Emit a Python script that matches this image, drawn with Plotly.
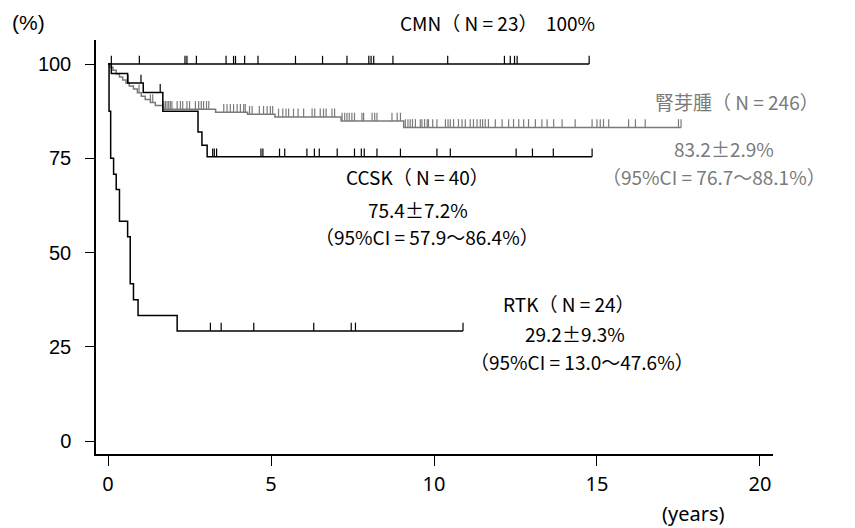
import plotly.graph_objects as go

# ---------------- data (years, % survival) ----------------
cmn_end = 14.76
cmn_censor = [0.10, 0.96, 2.36, 2.42, 2.71, 3.62, 3.85, 3.91, 4.19, 4.60, 5.75, 6.58,
              7.33, 8.00, 8.07, 8.15, 8.74, 10.42, 12.16, 12.34, 12.47, 12.55, 14.76]

wilms_t = [0.05, 0.15, 0.25, 0.35, 0.45, 0.55, 0.65, 0.78, 0.90, 1.02, 1.14, 1.30,
           1.45, 1.70, 3.30, 4.28, 5.12, 7.15, 9.07]
wilms_s = [99.2, 98.4, 97.4, 96.6, 95.8, 95.0, 94.2, 93.4, 92.4, 91.5, 90.6, 89.8,
           89.0, 88.0, 87.2, 86.7, 86.0, 84.9, 83.2]
wilms_end = 17.58
wilms_censor = [0.62, 0.95, 1.30, 1.37, 1.71, 1.76, 1.81, 1.86, 1.91, 1.96, 2.12, 2.22,
                2.29, 2.42, 2.50, 2.68, 2.78, 2.86, 2.93, 3.02, 3.09,
                3.55, 3.65, 3.75, 3.85, 3.96, 4.06, 4.16, 4.21,
                4.34, 4.42, 4.64, 4.77, 4.88, 4.98, 5.05,
                5.23, 5.36, 5.46, 5.54, 5.69, 5.83, 6.00, 6.26, 6.34, 6.51, 6.61, 6.69,
                6.87, 6.95, 7.18, 7.26, 7.33, 7.40, 7.48, 7.56, 7.79, 7.84, 8.10, 8.18,
                8.25, 8.71, 8.87, 8.97, 9.12, 9.20, 9.27, 9.34, 9.43, 9.58, 9.63, 9.71,
                9.79, 9.83, 9.96, 10.09, 10.35, 10.43, 10.50, 10.60, 10.75, 10.86, 10.96,
                11.11, 11.21, 11.32, 11.42, 11.49, 11.57, 11.67, 11.88, 12.09, 12.29,
                12.44, 12.60, 12.75, 12.90, 13.11, 13.31, 13.47, 13.67, 13.93, 14.33,
                14.85, 15.00, 15.10, 15.20, 15.36, 15.97, 16.18, 16.48, 17.50, 17.58]

ccsk_t = [0.10, 0.60, 1.08, 1.68, 2.76, 2.88, 3.04]
ccsk_s = [97.5, 95.0, 92.5, 87.5, 82.0, 78.5, 75.4]
ccsk_end = 14.85
ccsk_censor = [1.01, 1.60, 3.21, 3.26, 3.33, 4.69, 4.75, 5.26, 5.42, 6.10, 6.33, 6.48,
               7.03, 7.56, 7.77, 7.86, 8.25, 8.97, 10.09, 10.50, 12.52, 13.02, 13.66, 14.85]

rtk_t = [0.03, 0.08, 0.17, 0.25, 0.35, 0.60, 0.68, 0.78, 0.92, 2.12]
rtk_s = [87.5, 75.0, 70.8, 66.7, 58.3, 54.2, 41.7, 37.5, 33.3, 29.2]
rtk_end = 10.89
rtk_censor = [3.14, 3.47, 4.47, 6.31, 7.46, 7.59, 10.89]

x_ticks = [0, 5, 10, 15, 20]
y_ticks = [0, 25, 50, 75, 100]

labels_black = ["CCSK（ N = 40）", "75.4±7.2%", "（95%CI = 57.9～86.4%）",
                "RTK（ N = 24）", "29.2±9.3%", "（95%CI = 13.0～47.6%）"]
labels_black_pos = [(9.48, 70.2), (9.52, 61.5), (9.8, 54.3),
                    (14.15, 36.6), (14.33, 28.6), (14.55, 21.2)]
labels_gray = ["腎芽腫（ N = 246）", "83.2±2.9%", "（95%CI = 76.7～88.1%）"]
labels_gray_pos = [(19.3, 90.0), (18.9, 77.7), (18.6, 70.2)]
cmn_label = "CMN（ N = 23）  100%"

GRAY = "#7a7a7a"
TICK_H = 2.2


def surv_at(c, ts, ss):
    s = 100.0
    for t, v in zip(ts, ss):
        if t <= c:
            s = v
    return s


def censor_xy(cs, ts, ss):
    xs, ys = [], []
    for c in cs:
        s = surv_at(c, ts, ss)
        xs += [c, c, None]
        ys += [s, s + TICK_H, None]
    return xs, ys


def step_xy(ts, ss, end):
    return [0] + ts + [end], [100] + ss + [ss[-1] if ss else 100]


fig = go.Figure()

groups = [
    (wilms_t, wilms_s, wilms_end, wilms_censor, GRAY),
    (ccsk_t, ccsk_s, ccsk_end, ccsk_censor, "black"),
    (rtk_t, rtk_s, rtk_end, rtk_censor, "black"),
    ([], [], cmn_end, cmn_censor, "black"),
]
for ts, ss, end, cs, col in groups:
    x, y = step_xy(ts, ss, end)
    fig.add_trace(go.Scatter(x=x, y=y, mode="lines", line=dict(color=col, width=1.5, shape="hv"),
                             showlegend=False, hoverinfo="skip"))
    cx, cy = censor_xy(cs, ts, ss)
    fig.add_trace(go.Scatter(x=cx, y=cy, mode="lines", line=dict(color=col, width=1.2),
                             showlegend=False, hoverinfo="skip", connectgaps=False))

JP = "Noto Sans CJK JP"
for txt, (x, y) in zip(labels_black, labels_black_pos):
    fig.add_annotation(x=x, y=y, text=txt, showarrow=False, xanchor="center", yanchor="middle",
                       font=dict(family=JP, size=19, color="#000000"))
for txt, (x, y) in zip(labels_gray, labels_gray_pos):
    fig.add_annotation(x=x, y=y, text=txt, showarrow=False, xanchor="center", yanchor="middle",
                       font=dict(family=JP, size=19, color=GRAY))

fig.add_annotation(x=11.95, y=1, yref="paper", text=cmn_label, showarrow=False,
                   xanchor="center", yanchor="middle", yshift=18,
                   font=dict(family=JP, size=19, color="#000000"))
fig.add_annotation(x=0, y=1, xref="paper", yref="paper", text="(%)", showarrow=False,
                   xanchor="center", yanchor="middle", xshift=-68, yshift=18,
                   font=dict(family="Liberation Sans", size=21, color="#000000"))
fig.add_annotation(x=17.95, y=0, yref="paper", text="(years)", showarrow=False,
                   xanchor="center", yanchor="middle", yshift=-59,
                   font=dict(family="Noto Sans", size=20, color="#000000"))

fig.update_layout(
    width=855, height=528,
    margin=dict(l=96, r=82, t=40, b=74),
    paper_bgcolor="white", plot_bgcolor="white",
    xaxis=dict(range=[-0.37, 20.4], tickvals=x_ticks, ticktext=[str(v) for v in x_ticks],
               showgrid=False, zeroline=False, showline=True, linecolor="black", linewidth=1.5,
               ticks="outside", ticklen=10, tickwidth=1.3, tickcolor="black",
               tickfont=dict(family="Noto Sans", size=20, color="#000000"),
               ticklabelstandoff=1),
    yaxis=dict(range=[-3.45, 106.4], tickvals=y_ticks, ticktext=[str(v) for v in y_ticks],
               showgrid=False, zeroline=False, showline=True, linecolor="black", linewidth=1.5,
               ticks="outside", ticklen=9, tickwidth=1.3, tickcolor="black",
               tickfont=dict(family="Liberation Sans", size=20, color="#000000"),
               ticklabelstandoff=10),
)

fig.write_html("out.html")
